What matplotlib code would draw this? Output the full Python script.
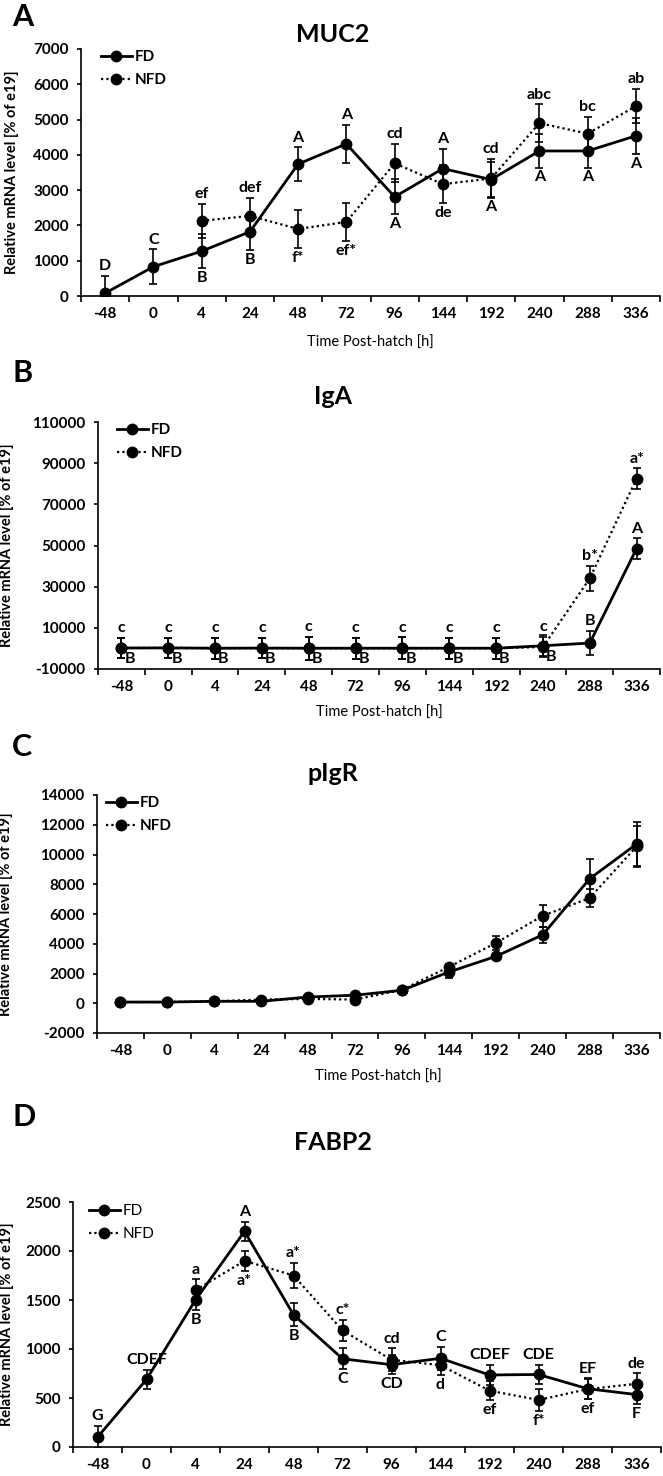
import matplotlib
matplotlib.use("Agg")
import matplotlib.pyplot as plt
import numpy as np

plt.rcParams['font.family'] = ['Lato', 'DejaVu Sans']

nan = np.nan
hours = ['-48', '0', '4', '24', '48', '72', '96', '144', '192', '240', '288', '336']

# MUC2
muc2_fd = [80, 830, 1270, 1820, 3740, 4310, 2810, 3610, 3300, 4110, 4110, 4540]
muc2_fd_err = [490, 490, 480, 510, 470, 540, 500, 550, 490, 470, 470, 510]
muc2_nfd = [nan, nan, 2130, 2270, 1900, 2100, 3760, 3170, 3330, 4900, 4600, 5380]
muc2_nfd_err = [nan, nan, 490, 500, 540, 540, 540, 530, 550, 530, 480, 480]
muc2_fd_lab = ['D', 'C', 'B', 'B', 'A', 'A', 'A', 'A', 'A', 'A', 'A', 'A']
muc2_fd_pos = ['a', 'a', 'b', 'b', 'a', 'a', 'b', 'a', 'b', 'b', 'b', 'b']
muc2_nfd_lab = ['', '', 'ef', 'def', 'f*', 'ef*', 'cd', 'de', 'cd', 'abc', 'bc', 'ab']
muc2_nfd_pos = ['', '', 'a', 'a', 'b', 'b', 'a', 'b', 'a', 'a', 'a', 'a']

# IgA
iga_fd = [200, 250, 100, 150, 100, 100, 100, 100, 100, 1300, 2600, 48500]
iga_fd_err = [5000, 5000, 5000, 5000, 5500, 5000, 5300, 5000, 5000, 5000, 6000, 5000]
iga_nfd = [200, 250, 100, 150, 100, 100, 100, 100, 100, 700, 34000, 82500]
iga_nfd_err = [5000, 5000, 5000, 5000, 5500, 5000, 5300, 5000, 5000, 5000, 6000, 5000]
iga_fd_lab = ['B'] * 10 + ['B', 'A']
iga_fd_pos = ['r'] * 10 + ['a', 'a']
iga_nfd_lab = ['c'] * 10 + ['b*', 'a*']
iga_nfd_pos = ['a'] * 12

# pIgR
pigr_fd = [80, 80, 130, 130, 420, 540, 870, 2100, 3150, 4600, 8370, 10700]
pigr_fd_err = [60, 60, 60, 60, 80, 80, 100, 400, 150, 520, 1350, 1500]
pigr_nfd = [80, 80, 130, 250, 290, 250, 900, 2440, 4050, 5880, 7070, 10540]
pigr_nfd_err = [60, 60, 60, 80, 80, 80, 100, 200, 490, 740, 600, 1350]

# FABP2
fabp2_fd = [100, 690, 1500, 2200, 1350, 900, 840, 905, 735, 740, 595, 535]
fabp2_fd_err = [115, 100, 100, 100, 115, 107, 97, 117, 104, 100, 104, 100]
fabp2_nfd = [nan, nan, 1600, 1900, 1750, 1190, 890, 835, 575, 480, 590, 645]
fabp2_nfd_err = [nan, nan, 110, 104, 130, 107, 117, 100, 97, 110, 100, 107]
fabp2_fd_lab = ['G', 'CDEF', 'B', 'A', 'B', 'C', 'CD', 'C', 'CDEF', 'CDE', 'EF', 'F']
fabp2_fd_pos = ['a', 'a', 'b', 'a', 'b', 'b', 'b', 'a', 'a', 'a', 'a', 'b']
fabp2_nfd_lab = ['', '', 'a', 'a*', 'a*', 'c*', 'cd', 'd', 'ef', 'f*', 'ef', 'de']
fabp2_nfd_pos = ['', '', 'a', 'b', 'a', 'a', 'a', 'b', 'b', 'b', 'b', 'a']

W, H = 663, 1476
fig = plt.figure(figsize=(W / 100, H / 100), dpi=100)


def px_rect(left, right, top, bottom):
    return [left / W, 1 - bottom / H, (right - left) / W, (bottom - top) / H]


def put_labels(ax, vals, errs, labs, pos, fs=11.5):
    for i, (v, e, t, p) in enumerate(zip(vals, errs, labs, pos)):
        if not t:
            continue
        if p == 'a':
            ax.annotate(t, (i, v + e), xytext=(0, 2), textcoords='offset points',
                        ha='center', va='bottom', fontsize=fs, fontweight='bold')
        elif p == 'b':
            ax.annotate(t, (i, v - e), xytext=(0, -2), textcoords='offset points',
                        ha='center', va='top', fontsize=fs, fontweight='bold')
        else:
            ax.annotate(t, (i, v), xytext=(6, -8), textcoords='offset points',
                        ha='center', va='center', fontsize=fs, fontweight='bold')


def panel(rect, letter, letter_y, title, title_y, fd, fd_err, nfd, nfd_err,
          ylim, yticks, leg_xy, ylab_x, xlab_y=None, legend_bold=True):
    ax = fig.add_axes(rect)
    x = np.arange(len(hours))
    fd = np.array(fd, float)
    nfd = np.array(nfd, float)
    ax.errorbar(x, fd, yerr=fd_err, fmt='none', ecolor='black', elinewidth=1.2,
                capsize=3, capthick=1.2, zorder=2)
    ax.errorbar(x, nfd, yerr=nfd_err, fmt='none', ecolor='black', elinewidth=1.2,
                capsize=3, capthick=1.2, zorder=2)
    ax.plot(x, fd, color='black', lw=2.0, marker='o', ms=7.5, label='FD', zorder=3)
    ax.plot(x, nfd, color='black', lw=1.6, ls=(0, (1, 1.4)), marker='o', ms=7.5,
            label='NFD', zorder=3)
    ax.set_xlim(-0.5, len(hours) - 0.5)
    ax.set_ylim(*ylim)
    ax.set_yticks(yticks)
    ax.set_yticklabels([str(t) for t in yticks], fontsize=11, fontweight='bold')
    ax.set_xticks(np.arange(len(hours) + 1) - 0.5)
    ax.set_xticklabels([])
    ax.set_xticks(x, minor=True)
    ax.set_xticklabels(hours, minor=True, fontsize=11, fontweight='bold')
    ax.tick_params(axis='x', which='major', direction='out', length=4, width=1.2)
    ax.tick_params(axis='x', which='minor', length=0, pad=8)
    ax.tick_params(axis='y', direction='out', length=3, width=1.2, pad=6)
    for s in ['top', 'right']:
        ax.spines[s].set_visible(False)
    for s in ['left', 'bottom']:
        ax.spines[s].set_linewidth(1.2)
    ax.set_ylabel('Relative mRNA level [% of e19]', fontsize=10.5, fontweight='bold')
    ax.yaxis.set_label_coords(ylab_x, rect[1] + rect[3] / 2, transform=fig.transFigure)
    if xlab_y is not None:
        fig.text(rect[0] + rect[2] / 2, 1 - xlab_y / H, 'Time Post-hatch [h]',
                 ha='center', va='center', fontsize=10.5)
    fig.text(12 / W, 1 - letter_y / H, letter, fontsize=22, fontweight='bold',
             ha='left', va='center')
    fig.text(333 / W, 1 - title_y / H, title, fontsize=18, fontweight='bold',
             ha='center', va='center')
    ax.legend(loc='upper left', bbox_to_anchor=leg_xy, frameon=False,
              borderaxespad=0, borderpad=0, handlelength=2.0, handletextpad=0.2,
              labelspacing=0.6, numpoints=1,
              prop={'size': 11, 'weight': 'bold' if legend_bold else 'normal'})
    return ax


axA = panel(px_rect(81, 660, 49, 296), 'A', 17, 'MUC2', 34,
            muc2_fd, muc2_fd_err, muc2_nfd, muc2_nfd_err,
            (0, 7000), list(range(0, 7001, 1000)),
            ((101 - 81) / 579, (296 - 50) / 247), 19 / W, xlab_y=343)
put_labels(axA, muc2_fd, muc2_fd_err, muc2_fd_lab, muc2_fd_pos)
put_labels(axA, muc2_nfd, muc2_nfd_err, muc2_nfd_lab, muc2_nfd_pos)

axB = panel(px_rect(98, 660, 422, 669), 'B', 373, 'IgA', 397,
            iga_fd, iga_fd_err, iga_nfd, iga_nfd_err,
            (-10000, 110000), list(range(-10000, 110001, 20000)),
            ((117 - 98) / 562, (669 - 423) / 247), 14 / W, xlab_y=713)
put_labels(axB, iga_fd, iga_fd_err, iga_fd_lab, iga_fd_pos)
put_labels(axB, iga_nfd, iga_nfd_err, iga_nfd_lab, iga_nfd_pos)

axC = panel(px_rect(97, 660, 795, 1033), 'C', 747, 'pIgR', 773,
            pigr_fd, pigr_fd_err, pigr_nfd, pigr_nfd_err,
            (-2000, 14000), list(range(-2000, 14001, 2000)),
            ((106 - 97) / 563, (1033 - 796) / 238), 13 / W, xlab_y=1077)

axD = panel(px_rect(73, 661, 1202, 1447), 'D', 1117, 'FABP2', 1142,
            fabp2_fd, fabp2_fd_err, fabp2_nfd, fabp2_nfd_err,
            (0, 2500), list(range(0, 2501, 500)),
            ((89 - 73) / 588, (1447 - 1204) / 245), 14 / W, legend_bold=False)
put_labels(axD, fabp2_fd, fabp2_fd_err, fabp2_fd_lab, fabp2_fd_pos)
put_labels(axD, fabp2_nfd, fabp2_nfd_err, fabp2_nfd_lab, fabp2_nfd_pos)

fig.savefig('out.png', dpi=100)
